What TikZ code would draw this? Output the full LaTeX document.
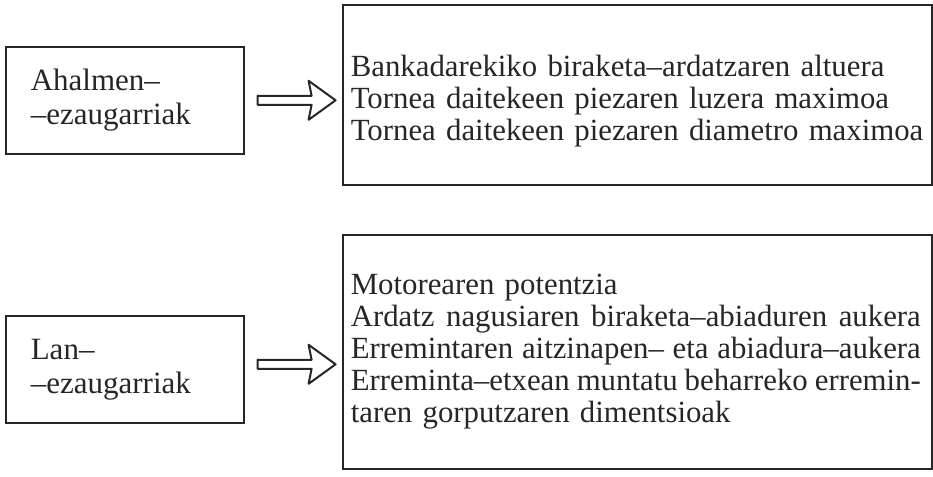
\documentclass[tikz,border=0pt]{standalone}
\usepackage{fontspec}
\setmainfont{Liberation Serif}
\usetikzlibrary{calc}
\definecolor{ink}{gray}{0.15}
\tikzset{
  leftbox/.style={draw=ink, line width=1.6pt, rectangle, anchor=north west,
    minimum width=238pt, minimum height=107pt, text width=188pt,
    inner xsep=25pt, inner ysep=0pt, align=left, text=ink,
    font=\fontsize{31}{34}\selectfont},
  rightbox/.style={draw=ink, line width=1.6pt, rectangle, anchor=north west,
    minimum width=589pt, text width=573pt, inner xsep=8pt, inner ysep=0pt,
    align=left, text=ink, font=\fontsize{30.8}{32}\selectfont},
  hollowarrow/.style={draw=ink, line width=2pt, line join=round}
}
\newcommand{\jline}[1]{{\spaceskip=0.25em plus 0.5em minus 0.2em\makebox[570pt][s]{#1}}}
\newcommand{\oline}[1]{\makebox[570pt][l]{#1}}
\begin{document}
\begin{tikzpicture}[x=1pt,y=-1pt]
\useasboundingbox (0,0) rectangle (933,476);
% top row
\node[leftbox] (L1) at (5,46) {Ahalmen–\\–ezaugarriak};
\node[rightbox, minimum height=180pt] (R1) at (342,4)
  {\rule{0pt}{34pt}\oline{Bankadarekiko biraketa–ardatzaren altuera}\\
   \oline{Tornea daitekeen piezaren luzera maximoa}\\
   \oline{Tornea daitekeen piezaren diametro maximoa}};
% bottom row
\node[leftbox] (L2) at (5,315) {Lan–\\–ezaugarriak};
\node[rightbox, minimum height=234pt] (R2) at (342,234)
  {\oline{Motorearen potentzia}\\
   \jline{Ardatz nagusiaren biraketa–abiaduren aukera}\\
   \jline{Erremintaren aitzinapen– eta abiadura–aukera}\\
   \jline{Erreminta–etxean muntatu beharreko erremin-}\\
   \oline{taren gorputzaren dimentsioak}};
% arrows
\coordinate (A1) at ($(L1.east)+(13,0)$);
\coordinate (A2) at ($(L2.east)+(13,-5)$);
\foreach \a in {A1,A2}{
  \draw[hollowarrow] (\a) ++(0,-4.5) -- ++(54,0) -- ++(-3,-15) -- ++(27,19.5)
     -- ++(-27,19.5) -- ++(3,-15) -- ++(-54,0) -- cycle;
}
\end{tikzpicture}
\end{document}
